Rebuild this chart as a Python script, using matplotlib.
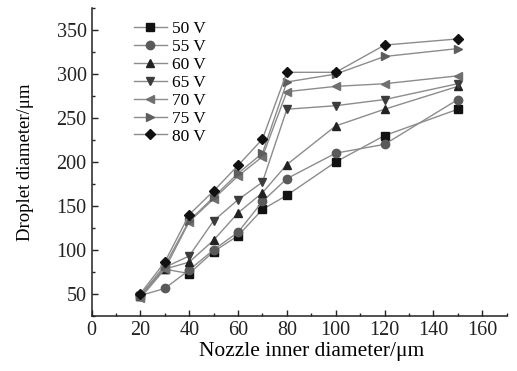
import matplotlib.pyplot as plt
from matplotlib.ticker import MultipleLocator

plt.rcParams['font.family'] = ['Liberation Serif', 'DejaVu Serif']

# Diâmetro do bocal (um)
bocal = [20, 30, 40, 50, 60, 70, 80, 100, 120, 150]

# Diâmetro da gota para cada tensão
v50 = [48, 78, 73, 98, 116, 146, 162, 200, 230, 260]
v55 = [48, 56, 77, 100, 120, 155, 181, 210, 220, 271]
v60 = [48, 78, 86, 111, 142, 165, 197, 241, 260, 286]
v65 = [48, 80, 93, 133, 157, 177, 260, 264, 271, 289]
v70 = [45, 78, 132, 158, 184, 206, 280, 286, 289, 298]
v75 = [48, 82, 133, 160, 187, 210, 291, 300, 320, 329]
v80 = [50, 86, 140, 167, 196, 226, 302, 302, 333, 340]

rotulos = ['50 V', '55 V', '60 V', '65 V', '70 V', '75 V', '80 V']
series = [v50, v55, v60, v65, v70, v75, v80]
marcadores = ['s', 'o', '^', 'v', '<', '>', 'D']
cores = ['#111111', '#5a5a5a', '#222222', '#3c3c3c', '#707070', '#5e5e5e', '#111111']

fig = plt.figure(figsize=(5.17, 3.71), dpi=100)
ax = fig.add_axes([0.177, 0.149, 0.803, 0.829])

for y, lab, m, c in zip(series, rotulos, marcadores, cores):
    ms = 5.5 if m == 'D' else 6
    ax.plot(bocal, y, color='#8c8c8c', lw=1.0, marker=m, markersize=ms,
            markerfacecolor=c, markeredgecolor=c, label=lab)

ax.set_xlim(0, 170)
ax.set_ylim(25, 375)
ax.xaxis.set_minor_locator(MultipleLocator(10))
ax.yaxis.set_minor_locator(MultipleLocator(25))
ax.set_xticks(range(0, 161, 20))
ax.set_yticks(range(50, 351, 50))

for s in ['top', 'right']:
    ax.spines[s].set_visible(False)
for s in ['left', 'bottom']:
    ax.spines[s].set_color('#222222')
    ax.spines[s].set_linewidth(1.1)

ax.tick_params(which='both', direction='in', colors='#222222', labelsize=14.5)
ax.tick_params(which='major', length=4.5, width=1.0)
ax.tick_params(which='minor', length=2.5, width=1.0)

ax.set_xlabel('Nozzle inner diameter/μm', fontsize=15.5, labelpad=1)
ax.xaxis.set_label_coords(0.53, -0.085)
ax.set_ylabel('Droplet diameter/μm', fontsize=13.5, labelpad=16)

ax.legend(loc='upper left', bbox_to_anchor=(0.245, 0.962), bbox_transform=fig.transFigure,
          frameon=False, fontsize=12.5, handlelength=1.9, handletextpad=0.3,
          labelspacing=0.1, borderaxespad=0)

fig.savefig('out.png', dpi=100)
